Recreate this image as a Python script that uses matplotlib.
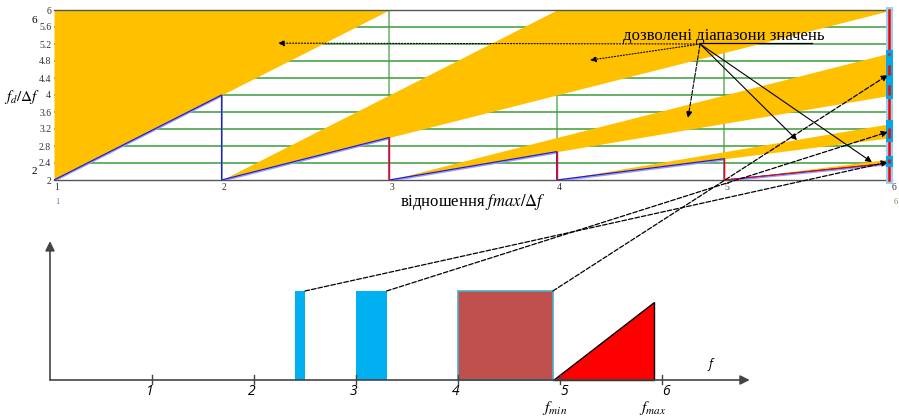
import numpy as np
import matplotlib.pyplot as plt
from matplotlib.patches import ConnectionPatch

plt.rcParams['mathtext.fontset'] = 'stix'

# ---- top chart: allowed sampling ranges fd/Δf vs fmax/Δf
band_x0 = [1, 2, 3, 4, 5]              # where each band starts
band_lo = [[2, 6], [2, 6], [2, 4], [2, 3], [2, 2.4]]     # lower edge at start / end
band_hi = [[6, 6], [2, 10], [2, 5], [2, 3.333], [2, 2.5]]  # upper edge at start / end
band_x1 = [3, 6, 6, 6, 6]

# minimal fd/Δf trace
min_x = [1, 2, 2, 3, 3, 4, 4, 5, 5, 6]
min_y = [2, 4, 2, 3, 2, 2.667, 2, 2.5, 2, 2.4]

# ranges at fmax/Δf = 6
ranges6 = [(4, 5), (3, 3.333), (2.4, 2.5)]

yticks = [2, 2.4, 2.8, 3.2, 3.6, 4, 4.4, 4.8, 5.2, 5.6, 6]
ylabels = ['2', '2.4', '2.8', '3.2', '3.6', '4', '4.4', '4.8', '5.2', '5.6', '6']
xticks = [1, 2, 3, 4, 5, 6]

# ---- bottom chart: spectrum
spec_ticks = [1, 2, 3, 4, 5, 6]
blue_bands = [(2.40, 2.50), (3.00, 3.30)]
brown_band = (4.0, 4.93)
tri_x = [4.93, 5.92]
rect_h = 1.0
tri_h = 0.88

yellow = '#FFC000'
green = '#3c9c3c'

fig = plt.figure(figsize=(8.99, 4.17), dpi=100)
ax = fig.add_axes([54/899, 1-180/417, 838/899, 170/417])
ax.set_xlim(1, 6)
ax.set_ylim(2, 6)

for y in yticks[1:-1]:
    ax.axhline(y, color=green, lw=1.1, zorder=1)
for x in [2, 3, 4, 5]:
    ax.axvline(x, color=green, lw=1.1, zorder=1, alpha=0.8)

for x0, x1, lo, hi in zip(band_x0, band_x1, band_lo, band_hi):
    ax.fill_between([x0, x1], lo, hi, color=yellow, lw=0, zorder=2)

ax.plot(min_x, np.array(min_y) - 0.03, color='#9999ff', lw=1.0, zorder=3)
ax.plot(min_x, min_y, color='#2020d0', lw=0.9, zorder=3)
for i in [3, 5, 7]:
    ax.plot([min_x[i], min_x[i+1]], [min_y[i], min_y[i+1]], color='red', lw=1.0, zorder=4)
ax.plot([5, 6], [2.0, 2.4], color='red', lw=0.6, zorder=3)

# marker bar at fmax/Δf = 6
ax.plot([5.985, 5.985], [2, 6], color='#8fd3f5', lw=5, zorder=5, clip_on=False)
ax.plot([5.985, 5.985], [2, 6], color='red', lw=1.8, zorder=6, clip_on=False)
for lo, hi in ranges6:
    ax.plot([5.985, 5.985], [lo, hi], color='#00a8e8', lw=5, zorder=7, clip_on=False)
    ax.plot([5.985, 5.985], [lo, hi], color='red', lw=1.8, ls=(0, (4, 4)), zorder=8, clip_on=False)

for s in ax.spines.values():
    s.set_color('#555555')
    s.set_linewidth(1.0)
ax.spines['left'].set_visible(False)
ax.spines['right'].set_visible(False)

ax.set_yticks(yticks)
ax.set_yticklabels(ylabels, fontsize=7, family='Liberation Serif', color='#333333')
ax.set_xticks(xticks)
ax.set_xticklabels([str(v) for v in xticks], fontsize=7, family='Liberation Serif', color='#333333')
for lab in ax.get_xticklabels():
    lab.set_ha('left')
ax.tick_params(length=0, pad=2)

ax.text(-0.023, 0.94, '6', transform=ax.transAxes, fontsize=8, family='Liberation Serif', ha='center', va='center')
ax.text(-0.023, 0.05, '2', transform=ax.transAxes, fontsize=8, family='Liberation Serif', ha='center', va='center')
ax.text(0.002, -0.13, '1', transform=ax.transAxes, fontsize=6, family='Liberation Serif', color='#5577aa', ha='left', va='center')
ax.text(1.005, -0.13, '6', transform=ax.transAxes, fontsize=6, family='Liberation Serif', color='#aa7744', ha='center', va='center')
ax.text(-0.038, 0.49, '$f_d/\\Delta f$', transform=ax.transAxes, fontsize=11, ha='center', va='center')
ax.text(0.5, -0.13, 'відношення $fmax/\\Delta f$', transform=ax.transAxes, fontsize=12,
        family='Liberation Serif', ha='center', va='center')

# label with arrows to the bands
ax.text(4.995, 5.39, 'дозволені діапазони значень', fontsize=12, family='Liberation Serif',
        ha='center', va='center', zorder=10)
ax.plot([4.855, 5.523], [5.22, 5.22], color='black', lw=0.9, zorder=10)
origin = (4.855, 5.2)
targets = [(2.336, 5.22), (4.198, 4.82), (4.783, 3.46), (5.433, 2.94), (5.88, 2.42)]
styles = [':', ':', '--', '-', '-']
for (tx, ty), ls in zip(targets, styles):
    ax.annotate('', xy=(tx, ty), xytext=origin, zorder=10,
                arrowprops=dict(arrowstyle='-|>', color='black', lw=0.8, ls=ls,
                                mutation_scale=9, shrinkA=0, shrinkB=0))

# ---- spectrum
ax2 = fig.add_axes([0, 0, 1, 187/417])
ax2.set_xlim(-50/102, 849/102)
ax2.set_ylim(-37/89, 150/89)
ax2.axis('off')

for lo, hi in blue_bands:
    ax2.bar(lo, rect_h, width=hi - lo, align='edge', color='#00b0f0', lw=0)
ax2.bar(brown_band[0], rect_h, width=brown_band[1] - brown_band[0], align='edge',
        color='#c0504d', edgecolor='#4bacc6', lw=1.2)
ax2.fill([tri_x[0], tri_x[1], tri_x[1]], [0, 0, tri_h], facecolor='red', edgecolor='black', lw=1.0)

ax2.annotate('', xy=(6.86, 0), xytext=(0, 0),
             arrowprops=dict(arrowstyle='-|>', color='#444444', lw=1.2, mutation_scale=14, shrinkA=0, shrinkB=0))
ax2.annotate('', xy=(0, 1.56), xytext=(0, 0),
             arrowprops=dict(arrowstyle='-|>', color='#444444', lw=1.2, mutation_scale=14, shrinkA=0, shrinkB=0))
for t in spec_ticks:
    ax2.plot([t, t], [-0.045, 0.056], color='#444444', lw=1.0)
    dx = 0.04 if t >= 5 else -0.02
    ax2.text(t + dx, -0.13, str(t), fontsize=10, style='italic', family='Open Sans', ha='center', va='center')
ax2.text(6.47, 0.17, 'f', fontsize=9, style='italic', family='Open Sans', ha='center', va='center')
ax2.text(4.95, -0.32, '$\\mathit{f}_{\\mathit{min}}$', fontsize=11.5, ha='center', va='center')
ax2.text(5.91, -0.32, '$\\mathit{f}_{\\mathit{max}}$', fontsize=11.5, ha='center', va='center')

# dashed links from spectrum bands to the marker bar
links = [((2.5, rect_h), (5.975, 2.42)), ((3.3, rect_h), (5.975, 3.13)), ((4.93, rect_h), (5.975, 4.47))]
for a, b in links:
    con = ConnectionPatch(xyA=a, coordsA=ax2.transData, xyB=b, coordsB=ax.transData,
                          arrowstyle='-|>', ls='--', lw=0.9, color='black', mutation_scale=9,
                          shrinkA=0, shrinkB=0, zorder=20)
    fig.add_artist(con)

fig.savefig('out.png', dpi=100)
